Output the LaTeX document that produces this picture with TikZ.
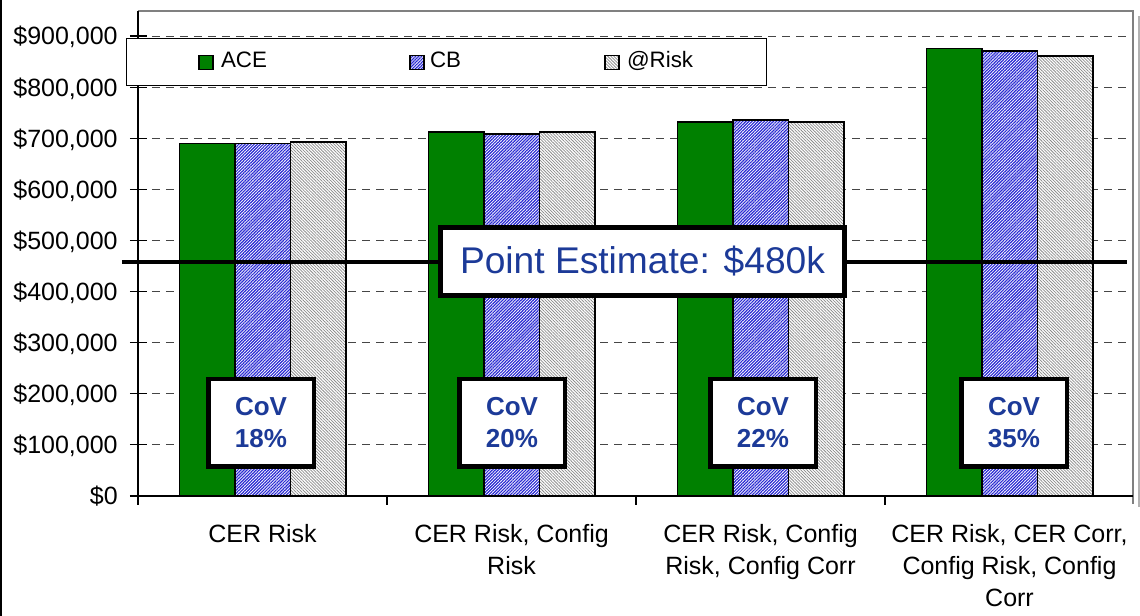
\documentclass[tikz,border=0pt]{standalone}
\usepackage{fontspec}
\setmainfont{Liberation Sans}
\usetikzlibrary{positioning, patterns.meta}

\definecolor{acegreen}{RGB}{0,128,0}
\definecolor{cbblue}{RGB}{40,40,210}
\definecolor{riskgray}{RGB}{140,140,140}
\definecolor{textblue}{RGB}{28,58,152}
\definecolor{gridgray}{RGB}{70,70,70}
\definecolor{framegray}{RGB}{128,128,128}

\tikzset{
  cbfill/.style={preaction={fill=white}, pattern={Lines[angle=45, distance=1.3pt, line width=0.7pt]}, pattern color=cbblue},
  riskfill/.style={preaction={fill=white}, pattern={Lines[angle=-45, distance=1.3pt, line width=0.45pt]}, pattern color=riskgray}
}

\begin{document}
\begin{tikzpicture}[
  x=0.6pt, y=0.3066pt,
  grid/.style={draw=gridgray, line width=0.6pt, dash pattern=on 4.8pt off 3.6pt},
  bar/.style={draw=black, line width=1pt},
  acebar/.style={bar, fill=acegreen},
  cbbar/.style={bar, cbfill},
  riskbar/.style={bar, riskfill},
  ticklab/.style={anchor=east, inner sep=0pt, text height=10.7pt, text depth=0pt, font=\fontsize{15}{19.2}\selectfont},
  catlab/.style={anchor=north, align=center, inner sep=0pt, font=\fontsize{15}{19.2}\selectfont},
  legendbox/.style={draw, line width=0.6pt, fill=white, minimum width=384pt, minimum height=28.2pt},
  legkey/.style={draw, minimum size=8.4pt, inner sep=0pt, line width=0.8pt},
  legtext/.style={inner sep=0pt, text height=9.6pt, text depth=0pt, yshift=1.8pt, font=\fontsize{13.4}{16}\selectfont},
  estline/.style={line width=2.8pt},
  estbox/.style={draw, line width=3pt, fill=white, minimum width=242pt, minimum height=40.8pt, font=\fontsize{22.3}{26}\selectfont, text=textblue},
  covbox/.style={draw, line width=2.7pt, fill=white, minimum width=63.3pt, minimum height=52.5pt, align=center, font=\fontsize{15.6}{19.2}\selectfont\bfseries, text=textblue}
]
\useasboundingbox (-138,-234.8) rectangle (1002,970.6);

% outer chart frame
\draw[line width=0.7pt] (-137,-234.8) -- (-137,970.6);
\draw[black!30, line width=1pt] (1001,939) -- (1001,-21.5);

% grid
\foreach \v in {100,200,...,900}
  \draw[grid] (0,\v) -- (995,\v);

% bars: ACE, CB, @Risk
\foreach \i/\a/\b/\r in {0/690/690/693, 1/712/708/712, 2/732/736/732, 3/876/871/861} {
  \draw[acebar] ({249*\i+41.5},0) rectangle ++(55.5,\a);
  \draw[cbbar] ({249*\i+97},0) rectangle ++(55.5,\b);
  \draw[riskbar] ({249*\i+152.5},0) rectangle ++(55.5,\r);
}

% axes
\draw[framegray, line width=0.9pt] (0,949) -- (995,949) -- (995,-16);
\draw[line width=0.7pt] (0,949) -- (0,0) -- (995,0);
\foreach \v in {0,100,...,900}
  \draw[line width=0.7pt] (-8,\v) -- (9,\v);
\foreach \x in {0,249,498,747}
  \draw[line width=0.7pt] (\x,0) -- (\x,-18);

\foreach \v/\t in {0/{\$0}, 100/{\$100,000}, 200/{\$200,000}, 300/{\$300,000}, 400/{\$400,000},
                   500/{\$500,000}, 600/{\$600,000}, 700/{\$700,000}, 800/{\$800,000}, 900/{\$900,000}}
  \node[ticklab] (ytick\v) at (-20,\v) {\t};

\node[catlab] (cat0) at (124.5,-55) {CER Risk};
\node[catlab] (cat1) at (373.5,-55) {CER Risk, Config\\Risk};
\node[catlab] (cat2) at (622.5,-55) {CER Risk, Config\\Risk, Config Corr};
\node[catlab] (cat3) at (871.5,-55) {CER Risk, CER Corr,\\Config Risk, Config\\Corr};

% legend
\node[legendbox] (legend) at (308,848.3) {};
\node[legkey, fill=acegreen] (keyace) at (68,847.7) {};
\node[legtext, right=4.2pt of keyace] (txtace) {ACE};
\node[legkey, cbfill] (keycb) at (279,847.7) {};
\node[legtext, right=3pt of keycb] (txtcb) {CB};
\node[legkey, riskfill] (keyrisk) at (474,847.7) {};
\node[legtext, right=4.2pt of keyrisk] (txtrisk) {@Risk};

% point estimate
\coordinate (estl) at (-16,457.9);
\coordinate (estr) at (989,457.9);
\draw[estline] (estl) -- (estr);
\node[estbox] (est) at (504.5,458.9) {Point Estimate: \$480k};

% coefficient of variation
\foreach \i/\p in {0/18, 1/20, 2/22, 3/35}
  \node[covbox] (cov\i) at ({123+251*\i},142.9) {CoV\\\p\%};
\end{tikzpicture}
\end{document}
